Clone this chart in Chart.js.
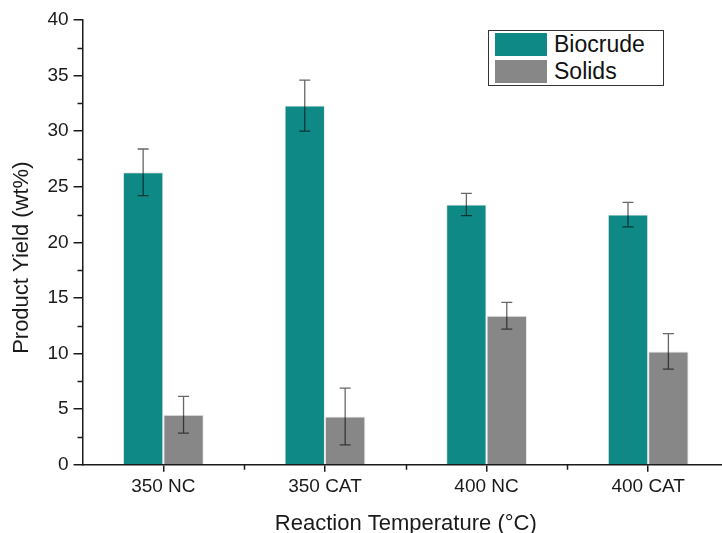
<!DOCTYPE html>
<html>
<head>
<meta charset="utf-8">
<title>Product Yield</title>
<script src="https://cdn.jsdelivr.net/npm/chart.js@4/dist/chart.umd.min.js"></script>
<style>
  html, body { margin: 0; padding: 0; background: #fff; overflow: hidden; }
  #wrap { position: relative; width: 722px; height: 533px; overflow: hidden; }
  #box { position: absolute; left: 0; top: 0; width: 740px; height: 537px; }
  #legend {
    position: absolute; left: 488px; top: 30px; width: 174px; height: 54px;
    border: 1px solid #333; background: #fff;
    font-family: "Liberation Sans", Arial, sans-serif; font-size: 23px; color: #111;
  }
  .row { display: flex; align-items: center; height: 27px; margin-left: 6px; }
  .sw { width: 52px; height: 23px; margin-right: 7px; }
</style>
</head>
<body>
<div id="wrap">
  <div id="box"><canvas id="chart"></canvas></div>
  <div id="legend"></div>
</div>
<script>
/* ---------- Data ---------- */
const categories = ["350 NC", "350 CAT", "400 NC", "400 CAT"];
const biocrude = [26.3, 32.3, 23.4, 22.5];
const biocrudeErr = [2.1, 2.3, 1.0, 1.1];
const solids = [4.5, 4.35, 13.4, 10.2];
const solidsErr = [1.65, 2.55, 1.2, 1.6];

const TEAL = "#0e8985";
const GREY = "#878787";
const INK = "#1a1a1a";
const FONT = "'Liberation Sans', Arial, sans-serif";

/* ---------- Error bars ---------- */
const errorBars = {
  id: "errorBars",
  afterDatasetsDraw(c) {
    const y = c.scales.y;
    const ctx = c.ctx;
    ctx.save();
    ctx.strokeStyle = "rgba(0,0,0,0.6)";
    ctx.lineWidth = 1.3;
    c.data.datasets.forEach((ds, i) => {
      c.getDatasetMeta(i).data.forEach((bar, j) => {
        const v = ds.data[j], e = ds.err[j];
        const top = y.getPixelForValue(v + e);
        const bot = y.getPixelForValue(v - e);
        ctx.beginPath();
        ctx.moveTo(bar.x, top); ctx.lineTo(bar.x, bot);
        ctx.moveTo(bar.x - 5.5, top); ctx.lineTo(bar.x + 5.5, top);
        ctx.moveTo(bar.x - 5.5, bot); ctx.lineTo(bar.x + 5.5, bot);
        ctx.stroke();
      });
    });
    ctx.restore();
  }
};

/* ---------- Minor ticks ---------- */
const minorTicks = {
  id: "minorTicks",
  afterDraw(c) {
    const { x, y } = c.scales;
    const a = c.chartArea;
    const ctx = c.ctx;
    ctx.save();
    ctx.strokeStyle = INK;
    ctx.lineWidth = 1.5;
    ctx.beginPath();
    y.ticks.forEach(t => {
      if (t.value % 5 === 0) return;
      const py = Math.round(y.getPixelForValue(t.value)) + 0.5;
      ctx.moveTo(a.left - 5, py); ctx.lineTo(a.left, py);
    });
    for (let i = 0; i < categories.length; i++) {
      const px = Math.round((x.getPixelForValue(i) + x.getPixelForValue(i + 1)) / 2) + 0.5;
      ctx.moveTo(px, a.bottom); ctx.lineTo(px, a.bottom + 5);
    }
    ctx.stroke();
    ctx.restore();
  }
};

/* ---------- Chart ---------- */
const datasets = [
  { label: "Biocrude", data: biocrude, err: biocrudeErr, backgroundColor: TEAL },
  { label: "Solids", data: solids, err: solidsErr, backgroundColor: GREY }
].map(d => ({
  ...d,
  borderColor: "rgba(225,225,225,0.8)",
  borderWidth: 1,
  categoryPercentage: 0.5,
  barPercentage: 1.0
}));

const chart = new Chart(document.getElementById("chart"), {
  type: "bar",
  data: { labels: categories, datasets },
  options: {
    responsive: true,
    maintainAspectRatio: false,
    animation: false,
    layout: { padding: { left: 9, right: 11, top: 20, bottom: 0 } },
    plugins: { legend: { display: false }, tooltip: { enabled: false } },
    scales: {
      x: {
        offset: true,
        grid: { offset: false, drawOnChartArea: false, tickLength: 7, color: INK, lineWidth: 1.5 },
        border: { color: INK, width: 1.5 },
        ticks: { color: INK, font: { family: FONT, size: 19 }, padding: 4 },
        title: {
          display: true, text: "Reaction Temperature (°C)", color: INK,
          font: { family: FONT, size: 22 }, padding: { top: 8, bottom: 0 }
        }
      },
      y: {
        min: 0, max: 40,
        grid: {
          drawOnChartArea: false, tickLength: 9, lineWidth: 1.5,
          color: ctx => (ctx.tick && ctx.tick.value % 5 === 0 ? INK : "rgba(0,0,0,0)")
        },
        border: { color: INK, width: 1.5 },
        ticks: {
          stepSize: 2.5, color: INK, font: { family: FONT, size: 19 }, padding: 5,
          callback: v => (v % 5 === 0 ? v : "")
        },
        title: {
          // trailing spaces nudge the rotated title down a little
          display: true, text: "Product Yield (wt%)\u00a0\u00a0\u00a0\u00a0\u00a0", color: INK,
          font: { family: FONT, size: 22 }, padding: { top: 0, bottom: 7 }
        }
      }
    }
  },
  plugins: [errorBars, minorTicks]
});

/* ---------- Legend ---------- */
document.getElementById("legend").innerHTML = chart.data.datasets
  .map(d => `<div class="row"><span class="sw" style="background:${d.backgroundColor}"></span>${d.label}</div>`)
  .join("");
</script>
</body>
</html>
